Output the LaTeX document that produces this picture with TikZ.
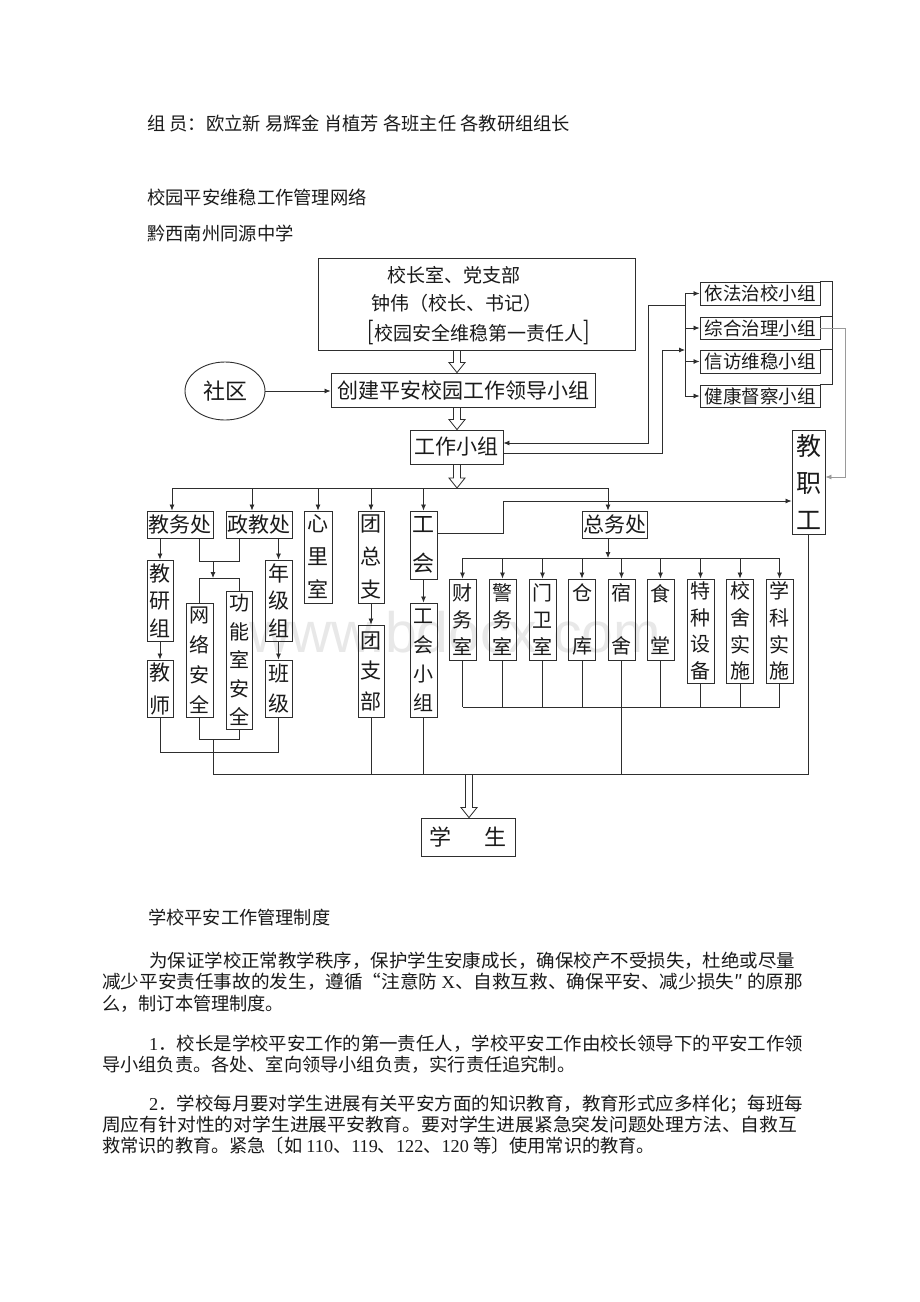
\documentclass[tikz,border=0pt]{standalone}
\usepackage{fontspec}
\usepackage{graphicx}
\setmainfont{Noto Sans CJK SC}
\newfontfamily\latf{Liberation Serif}
\newfontfamily\wmf{Liberation Sans}
\usetikzlibrary{arrows.meta,calc,shapes.geometric}
\definecolor{ln}{HTML}{2E2E2E}
\definecolor{tx}{HTML}{1A1A1A}
\definecolor{wmc}{HTML}{E8E8E8}
\definecolor{lg}{HTML}{9A9A9A}
\newcommand\harrowdn[2]{%
  \draw[hol] let \p1=#1, \p2=#2 in
    (\x1-3.5pt,\y1) -- (\x1-3.5pt,\y2+10pt) -- (\x1-8pt,\y2+10pt) -- (\x1,\y2)
    -- (\x1+8pt,\y2+10pt) -- (\x1+3.5pt,\y2+10pt) -- (\x1+3.5pt,\y1);}
\newcommand\fitline[2]{\resizebox{#1}{\height}{#2}}
\begin{document}
\begin{tikzpicture}[x=1pt,y=-1pt,
  bx/.style={draw=ln,line width=0.9pt,inner sep=0pt,text=tx},
  hb/.style={bx,font=\fontsize{#1}{#1}\selectfont},
  vb/.style 2 args={bx,align=center,font=\fontsize{#1}{#2}\selectfont},
  cn/.style={draw=ln,line width=0.8pt},
  ar/.style={cn,-{Latex[length=6pt,width=5pt]}},
  gar/.style={draw=lg,line width=0.8pt,-{Latex[length=6pt,width=5pt]}},
  hol/.style={draw=ln,line width=0.8pt,line join=miter},
  para/.style={anchor=base west,inner sep=0pt,text=tx,font=\fontsize{18.2}{18.2}\selectfont},
  head/.style={anchor=base west,inner sep=0pt,text=tx,font=\fontsize{18.3}{18.3}\selectfont},
  tl/.style={inner sep=0pt,text=tx,font=\fontsize{19}{19}\selectfont},
]
\fill[white] (0,0) rectangle (920,1302);
\useasboundingbox (0,0) rectangle (920,1302);

% watermark
\node[text=wmc,font=\wmf\fontsize{57}{57}\selectfont] (wmk) at (455,632) {www.bdocx.com};

% page text above
\node[head] (h1) at (147,130) {组 员：欧立新 易辉金 肖植芳 各班主任 各教研组组长};
\node[head] (h2) at (147,204) {校园平安维稳工作管理网络};
\node[head] (h3) at (147,240) {黔西南州同源中学};

% top box
\node[bx,minimum width=317pt,minimum height=92pt] (top) at (476.5,304) {};
\node[tl] (t1) at (454,275) {校长室、党支部};
\node[tl] (t2) at (457,303) {钟伟（校长、书记）};
\node[tl] (t3) at (478.5,333) {\scalebox{1}[1.35]{[}校园安全维稳第一责任人\scalebox{1}[1.35]{]}};

\node[hb=21,minimum width=264pt,minimum height=34pt] (lead) at (463,390) {创建平安校园工作领导小组};
\node[hb=21,minimum width=93pt,minimum height=34pt] (work) at (456.5,447) {工作小组};
\node[ellipse,draw=ln,line width=0.9pt,minimum width=80pt,minimum height=58pt,inner sep=0pt,text=tx,font=\fontsize{22}{22}\selectfont] (sq) at (225,391) {社区};

% right groups
\node[hb=18.5,minimum width=120pt,minimum height=23pt] (g1) at (760,293.5) {依法治校小组};
\node[hb=18.5,minimum width=120pt,minimum height=22pt] (g2) at (760,328) {综合治理小组};
\node[hb=18.5,minimum width=120pt,minimum height=23pt] (g3) at (760,361.5) {信访维稳小组};
\node[hb=18.5,minimum width=120pt,minimum height=22pt] (g4) at (760,396) {健康督察小组};
\node[vb={25}{37},minimum width=33pt,minimum height=104pt] (staff) at (808.5,482) {教\\职\\工};

% second level
\node[hb=21,minimum width=66pt,minimum height=27pt] (jwc) at (180,524.5) {教务处};
\node[hb=21,minimum width=66pt,minimum height=27pt] (zjc) at (259,524.5) {政教处};
\node[vb={21}{33},minimum width=28pt,minimum height=92pt] (xls) at (318,557) {心\\里\\室};
\node[vb={21}{33},minimum width=26pt,minimum height=92pt] (tzz) at (371,557) {团\\总\\支};
\node[vb={22}{39},minimum width=27pt,minimum height=68pt] (gh) at (423.5,545) {工\\会};
\node[hb=21,minimum width=65pt,minimum height=27pt] (zwc) at (614.5,524.5) {总务处};

% third level left
\node[vb={21}{27.5},minimum width=26pt,minimum height=81pt] (jyz) at (160,600.5) {教\\研\\组};
\node[vb={21}{33},minimum width=26pt,minimum height=57pt] (js) at (160,688.5) {教\\师};
\node[vb={20}{30},minimum width=27pt,minimum height=114pt] (wl) at (199.5,660) {网\\络\\安\\全};
\node[vb={20}{28.5},minimum width=26pt,minimum height=138pt] (gn) at (239,660) {功\\能\\室\\安\\全};
\node[vb={21}{27.5},minimum width=27pt,minimum height=81pt] (njz) at (278.5,600.5) {年\\级\\组};
\node[vb={21}{30},minimum width=27pt,minimum height=57pt] (bj) at (278.5,688.5) {班\\级};
\node[vb={21}{30.5},minimum width=26pt,minimum height=92pt] (tzb) at (371,671) {团\\支\\部};
\node[vb={20}{29},minimum width=27pt,minimum height=114pt] (ghxz) at (423.5,660) {工\\会\\小\\组};

% general affairs sub boxes
\node[vb={20}{26.7},minimum width=27pt,minimum height=81pt] (s1) at (462.5,619.5) {财\\务\\室};
\node[vb={20}{26.7},minimum width=27pt,minimum height=81pt] (s2) at (502.5,619.5) {警\\务\\室};
\node[vb={20}{26.7},minimum width=27pt,minimum height=81pt] (s3) at (542.5,619.5) {门\\卫\\室};
\node[vb={20}{26.7},minimum width=27pt,minimum height=81pt] (s4) at (582,619.5) {仓\\[26pt]库};
\node[vb={20}{26.7},minimum width=27pt,minimum height=81pt] (s5) at (621.5,619.5) {宿\\[26pt]舍};
\node[vb={20}{26.7},minimum width=27pt,minimum height=81pt] (s6) at (660.5,619.5) {食\\[26pt]堂};
\node[vb={20}{26.7},minimum width=27pt,minimum height=104pt] (s7) at (700.5,631) {特\\种\\设\\备};
\node[vb={20}{26.7},minimum width=27pt,minimum height=104pt] (s8) at (740,631) {校\\舍\\实\\施};
\node[vb={20}{26.7},minimum width=27pt,minimum height=104pt] (s9) at (779.5,631) {学\\科\\实\\施};

\node[bx,font=\fontsize{22}{22}\selectfont,minimum width=94pt,minimum height=38pt] (xs) at (468,837) {学\hspace{33pt}生};

% ---------- connectors ----------
\coordinate (ha) at (457,0);
\harrowdn{(ha |- top.south)}{(ha |- lead.north)}
\harrowdn{(ha |- lead.south)}{(ha |- work.north)}
\coordinate (bus) at (457,488);
\harrowdn{(ha |- work.south)}{(bus)}
\draw[ar] (sq.east) -- (lead.west |- sq.east);

% right side
\coordinate (vbus) at (685,0);
\draw[cn] (vbus |- g1.west) -- (vbus |- g4.west);
\foreach \g in {g1,g2,g3,g4} \draw[ar] (vbus |- \g.west) -- (\g.west);
\coordinate (w1) at ($(work.east)+(0,-4)$);
\coordinate (w2) at ($(work.east)+(0,6)$);
\coordinate (k1) at (648,305);
\coordinate (k2) at (662,350);
\draw[ar] (vbus |- k1) -- (k1) -- (k1 |- w1) -- (w1);
\draw[ar] (w2) -- (k2 |- w2) -- (k2) -- (vbus |- k2);
\coordinate (rb) at (832,0);
\draw[cn] (g1.north east) -- (rb |- g1.north) -- (rb |- g4.north) -- (g4.north east);
\draw[cn] (g2.north east) -- (rb |- g2.north);
\draw[cn] (g3.north east) -- (rb |- g3.north);
\coordinate (k3) at (845,477);
\draw[gar] (g2.east) -- (k3 |- g2.east) -- (k3) -- (staff.east |- k3);

% main bus
\coordinate (b1) at (172,488);
\coordinate (b2) at (252,488);
\coordinate (b6) at (608,488);
\draw[cn] (b1) -- (b6);
\draw[ar] (b1) -- (b1 |- jwc.north);
\draw[ar] (b2) -- (b2 |- zjc.north);
\draw[ar] (xls.north |- bus) -- (xls.north);
\draw[ar] (tzz.north |- bus) -- (tzz.north);
\draw[ar] (gh.north |- bus) -- (gh.north);
\draw[ar] (b6) -- (b6 |- zwc.north);

% union -> staff
\coordinate (k4) at (503,533);
\coordinate (k5) at (503,501);
\draw[ar] (gh.east |- k4) -- (k4) -- (k5) -- (staff.west |- k5);

% left sub-tree
\draw[ar] (jyz.north |- jwc.south) -- (jyz.north);
\draw[ar] (jyz.south) -- (js.north);
\draw[ar] (njz.north |- zjc.south) -- (njz.north);
\draw[ar] (njz.south) -- (bj.north);
\coordinate (m1) at (0,561);
\coordinate (m2) at (213,561);
\coordinate (m3) at (213,578);
\draw[cn] (wl.north |- jwc.south) -- (wl.north |- m1) -- (gn.north |- m1) -- (gn.north |- zjc.south);
\draw[ar] (m2) -- (m3);
\draw[cn] (wl.north) -- (wl.north |- m3) -- (gn.north |- m3) -- (gn.north);
\draw[ar] (tzz.south) -- (tzb.north);
\draw[ar] (gh.south) -- (ghxz.north);

% general affairs
\coordinate (sb) at (0,558);
\draw[ar] (b6 |- zwc.south) -- (b6 |- sb);
\draw[cn] (s1.north |- sb) -- (s9.north |- sb);
\foreach \s in {s1,s2,s3,s4,s5,s6,s7,s8,s9} \draw[ar] (\s.north |- sb) -- (\s.north);
\coordinate (lb) at (0,707);
\foreach \s in {s1,s2,s3,s4,s5,s6,s7,s8,s9} \draw[cn] (\s.south) -- (\s.south |- lb);
\draw[cn] (s1.south |- lb) -- (s9.south |- lb);

% bottom
\coordinate (q1) at (0,752);
\coordinate (q2) at (0,739);
\coordinate (bb) at (213,774);
\draw[cn] (js.south) -- (js.south |- q1) -- (bj.south |- q1) -- (bj.south);
\draw[cn] (wl.south) -- (wl.south |- q2) -- (gn.south |- q2) -- (gn.south);
\draw[cn] (bb |- q2) -- (bb);
\draw[cn] (bb) -- (staff.south |- bb);
\draw[cn] (tzb.south) -- (tzb.south |- bb);
\draw[cn] (ghxz.south) -- (ghxz.south |- bb);
\draw[cn] (s5.south) -- (s5.south |- bb);
\draw[cn] (staff.south) -- (staff.south |- bb);
\coordinate (hx) at (469,774);
\harrowdn{(hx)}{(hx |- xs.north)}

% page text below
\node[para] (p0) at (148,924) {学校平安工作管理制度};
\node[para] (p1) at (149,967) {\fitline{646pt}{为保证学校正常教学秩序，保护学生安康成长，确保校产不受损失，杜绝或尽量}};
\node[para] (p2) at (102,988) {\fitline{701pt}{减少平安责任事故的发生，遵循“注意防 {\latf X}、自救互救、确保平安、减少损失″ 的原那}};
\node[para] (p3) at (102,1010) {么，制订本管理制度。};
\node[para] (p4) at (149,1050) {\fitline{654pt}{{\latf 1}．校长是学校平安工作的第一责任人，学校平安工作由校长领导下的平安工作领}};
\node[para] (p5) at (102,1071) {导小组负责。各处、室向领导小组负责，实行责任追究制。};
\node[para] (p6) at (149,1110) {\fitline{654pt}{{\latf 2}．学校每月要对学生进展有关平安方面的知识教育，教育形式应多样化；每班每}};
\node[para] (p7) at (102,1131) {\fitline{695pt}{周应有针对性的对学生进展平安教育。要对学生进展紧急突发问题处理方法、自救互}};
\node[para] (p8) at (102,1152) {救常识的教育。紧急〔如 {\latf 110}、{\latf 119}、{\latf 122}、{\latf 120} 等〕使用常识的教育。};
\end{tikzpicture}
\end{document}
